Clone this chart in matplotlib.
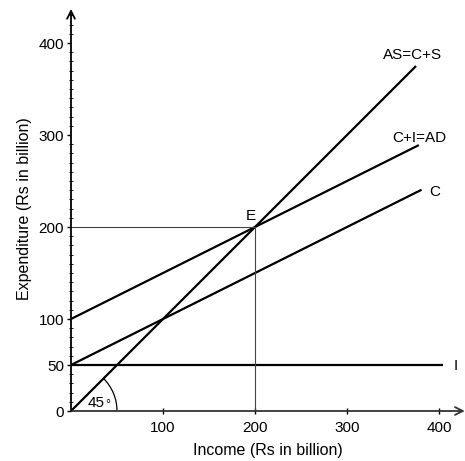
import numpy as np
import matplotlib
matplotlib.use("Agg")
import matplotlib.pyplot as plt
from matplotlib.patches import Arc

plt.rcParams['font.family'] = ['Liberation Sans', 'DejaVu Sans']

# income at which each line stops
c_end = 381
ad_end = 378
as_end = 375
i_end = 404

# intercepts and slopes (Rs in billion)
c_intercept, c_slope = 50, 0.5
ad_intercept, ad_slope = 100, 0.5
as_intercept, as_slope = 0, 1.0
invest = 50

eq_x, eq_y = 200, 200

xticks = [100, 200, 300, 400]
yticks = [0, 50, 100, 200, 300, 400]

fig = plt.figure(figsize=(4.65, 4.61), dpi=100)
ax = fig.add_axes([71 / 465, 50 / 461, 393.8 / 465, 404.8 / 461])
ax.set_xlim(0, 428)
ax.set_ylim(0, 440)

xc = np.array([0, c_end])
xad = np.array([0, ad_end])
xas = np.array([0, as_end])
ax.plot(xc, c_intercept + c_slope * xc, color='black', lw=1.6, solid_capstyle='butt')
ax.plot(xad, ad_intercept + ad_slope * xad, color='black', lw=1.6, solid_capstyle='butt')
ax.plot(xas, as_intercept + as_slope * xas, color='black', lw=1.6, solid_capstyle='butt')
ax.plot([0, i_end], [invest, invest], color='black', lw=1.6, solid_capstyle='butt')

# guide lines to equilibrium
ax.plot([0, eq_x], [eq_y, eq_y], color='#444444', lw=0.8)
ax.plot([eq_x, eq_x], [0, eq_y], color='#444444', lw=0.8)

# 45 degree arc
ax.add_patch(Arc((0, 0), 100, 100, theta1=0, theta2=45, color='black', lw=0.9))
ax.text(18, 4, "45", fontsize=11)
ax.text(37.5, 3.5, "°", fontsize=9)

ax.text(195, 212, "E", fontsize=11, ha='center', va='center')
ax.text(371, 387, "AS=C+S", fontsize=11, ha='center', va='center')
ax.text(379, 297, "C+I=AD", fontsize=11, ha='center', va='center')
ax.text(395, 238, "C", fontsize=11, ha='center', va='center')
ax.text(418, 49, "I", fontsize=11, ha='center', va='center')

for s in ax.spines.values():
    s.set_visible(False)

# axes with arrows
ax.annotate('', xy=(428, 0), xytext=(0, 0), annotation_clip=False,
            arrowprops=dict(arrowstyle='->', color='#333333', lw=1.3,
                            shrinkA=0, shrinkB=0, mutation_scale=14))
ax.annotate('', xy=(0, 437), xytext=(0, 0), annotation_clip=False,
            arrowprops=dict(arrowstyle='->', color='black', lw=1.3,
                            shrinkA=0, shrinkB=0, mutation_scale=14))

ax.set_xticks(xticks)
ax.set_yticks(yticks)
ax.set_yticks(np.arange(0, 431, 10), minor=True)
ax.tick_params(axis='x', direction='inout', length=4, width=1, labelsize=11, pad=5)
ax.tick_params(axis='y', which='major', direction='out', length=3, width=1, labelsize=11, pad=2)
ax.tick_params(axis='y', which='minor', direction='inout', length=3, width=0.6)

ax.set_xlabel("Income (Rs in billion)", fontsize=11.5, labelpad=6)
ax.set_ylabel("Expenditure (Rs in billion)", fontsize=11.5, labelpad=5)

fig.savefig("out.png", dpi=100)
